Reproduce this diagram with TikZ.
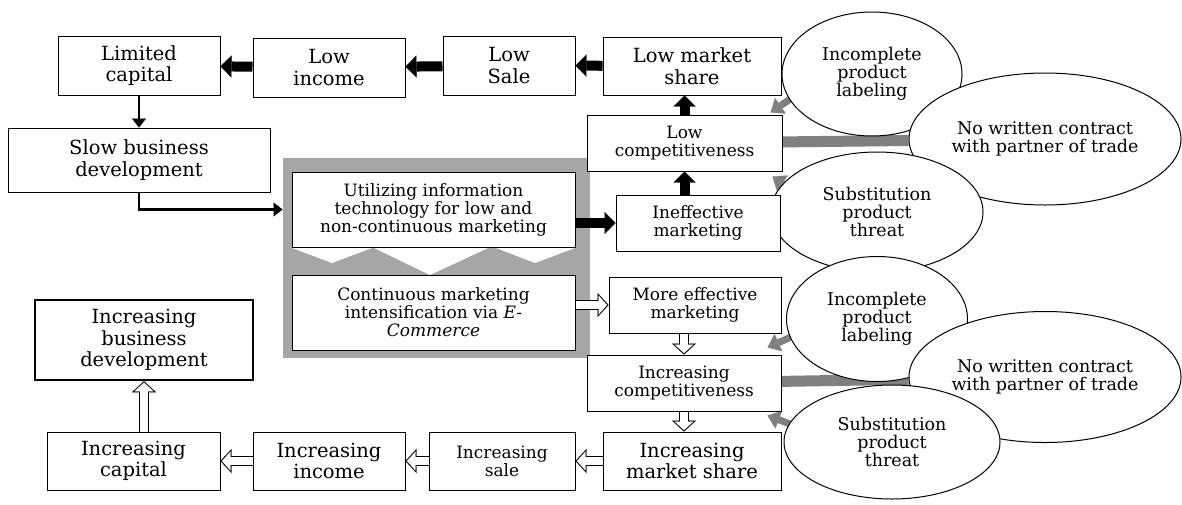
\documentclass[tikz,border=0pt]{standalone}
\usepackage{fontspec}
\setmainfont{DejaVu Serif}
\usetikzlibrary{positioning,arrows.meta,shapes.geometric,calc,backgrounds}
\definecolor{panelgray}{RGB}{166,166,166}
\definecolor{bargray}{RGB}{128,128,128}
\newcommand{\bigfont}{\fontsize{19.5}{21.5}\selectfont}
\newcommand{\smallfont}{\fontsize{17}{18}\selectfont}
\newcommand{\ovalfont}{\fontsize{17.5}{18}\selectfont}
\tikzset{>=latex,
  box/.style={rectangle,draw=black,fill=white,line width=1pt,align=center,inner sep=2pt,font=\bigfont},
  sbox/.style={box,font=\smallfont},
  oval/.style={ellipse,draw=black,fill=white,line width=1pt,align=center,inner sep=0pt,font=\ovalfont},
  blk/.style={draw=black,line width=10pt,-{Triangle[length=11pt,width=22pt,line width=0.1pt]}},
  thinarr/.style={draw=black,line width=2.4pt,-{Triangle[length=9pt,width=14pt,line width=0.1pt]}},
  hollow/.style={draw=white,line width=8pt,shorten >=1.4pt,-{Triangle[length=8.6pt,width=18.8pt,line width=0.1pt]},
    preaction={draw=black,line width=10pt,shorten >=0pt,-{Triangle[length=11pt,width=24pt,line width=0.1pt]}}},
  grayarr/.style={draw=bargray,line width=7pt,-{Triangle[length=12pt,width=19pt,line width=0.1pt]}},
  graybar/.style={draw=bargray,line width=11pt}
}

\begin{document}
\begin{tikzpicture}[x=1pt,y=-1pt]
\useasboundingbox (0,0) rectangle (1182,504);

\node[oval,minimum width=180pt,minimum height=124pt] (17) at(872,74){Incomplete\\product\\labeling};
\node[oval,minimum width=272pt,minimum height=132pt] (18) at(1045,139){No written contract\\with partner of trade};
\node[oval,minimum width=212pt,minimum height=120pt] (19) at(877,212){Substitution\\product\\threat};
\node[oval,minimum width=181pt,minimum height=125pt] (20) at(877,319){Incomplete\\product\\labeling};
\node[oval,minimum width=272pt,minimum height=131pt] (21) at(1045,377){No written contract\\with partner of trade};
\node[oval,minimum width=216pt,minimum height=114pt] (22) at(892,442){Substitution\\product\\threat};

\node[box,minimum width=162pt,minimum height=59pt] (1) at(139,65.5){Limited\\capital};
\node[box,minimum width=152pt,minimum height=59pt] (2) at(329,67.5){Low\\income};
\node[box,minimum width=132pt,minimum height=59pt] (3) at(509,65.5){Low\\Sale};
\node[box,minimum width=178pt,minimum height=58pt] (4) at(692,66){Low market\\share};
\node[box,minimum width=262pt,minimum height=64pt] (5) at(139,160){Slow business\\development};
\node[sbox,minimum width=195pt,minimum height=56pt] (6) at(684.5,143){Low\\competitiveness};
\node[sbox,minimum width=283pt,minimum height=75pt] (7) at(433.5,209.5){Utilizing information\\technology for low and\\non-continuous marketing};
\node[sbox,minimum width=164pt,minimum height=56pt] (8) at(698,223){Ineffective\\marketing};
\node[sbox,minimum width=283pt,minimum height=75pt] (9) at(433.5,312.5){Continuous marketing\\intensification via \textit{E-}\\\textit{Commerce}};
\node[sbox,minimum width=172pt,minimum height=56pt] (10) at(695,305){More effective\\marketing};
\node[sbox,minimum width=194pt,minimum height=56pt] (11) at(684,383){Increasing\\competitiveness};
\node[box,minimum width=178pt,minimum height=58pt] (12) at(692,461){Increasing\\market share};
\node[sbox,minimum width=146pt,minimum height=58pt] (13) at(502,461){Increasing\\sale};
\node[box,minimum width=152pt,minimum height=58pt] (14) at(329,461){Increasing\\income};
\node[box,minimum width=173pt,minimum height=58pt] (15) at(133.5,461){Increasing\\capital};
\node[box,line width=2.5pt,minimum width=218pt,minimum height=80pt] (16) at(144,340){Increasing\\business\\development};

\begin{scope}[on background layer]
\fill[panelgray] (283,158) rectangle (590,358);
\fill[white] (292,248) -- (372,248) -- (332,263) -- cycle;
\fill[white] (374,248) -- (488,248) -- (430,275) -- cycle;
\fill[white] (496,248) -- (575,248) -- (535,263) -- cycle;
\draw[graybar] (6) -- (18);
\draw[grayarr] ($(17.west)!0.5!(17.center)$) -- ([shift={(-12,-2)}]6.north east);
\draw[grayarr] ($(19.west)!0.5!(19.center)$) -- ([shift={(-10,5)}]6.south east);
\draw[graybar] (11) -- (21);
\draw[grayarr] ($(20.west)!0.5!(20.center)$) -- ([shift={(-14,-7)}]11.north east);
\draw[grayarr] ($(22.west)!0.5!(22.center)$) -- ([shift={(-14,4)}]11.south east);
\end{scope}

\draw[blk] (4) -- (3);
\draw[blk] (3) -- (2);
\draw[blk] (2) -- (1);
\draw[blk] (6) -- (6 |- 4.south);
\draw[blk] (8.north -| 6) -- (6);
\draw[blk] (7.east |- 8) -- (8);
\draw[thinarr] (1) -- (5);
\draw[thinarr,shorten >=9pt] (5) |- (7);

\draw[hollow] (9.east |- 10) -- (10);
\draw[hollow] (10.south -| 11) -- (11);
\draw[hollow] (11) -- (11 |- 12.north);
\draw[hollow] (12) -- (13);
\draw[hollow] (13) -- (14);
\draw[hollow] (14) -- (15);
\draw[hollow] (15.north -| 16) -- (16);

\end{tikzpicture}
\end{document}
